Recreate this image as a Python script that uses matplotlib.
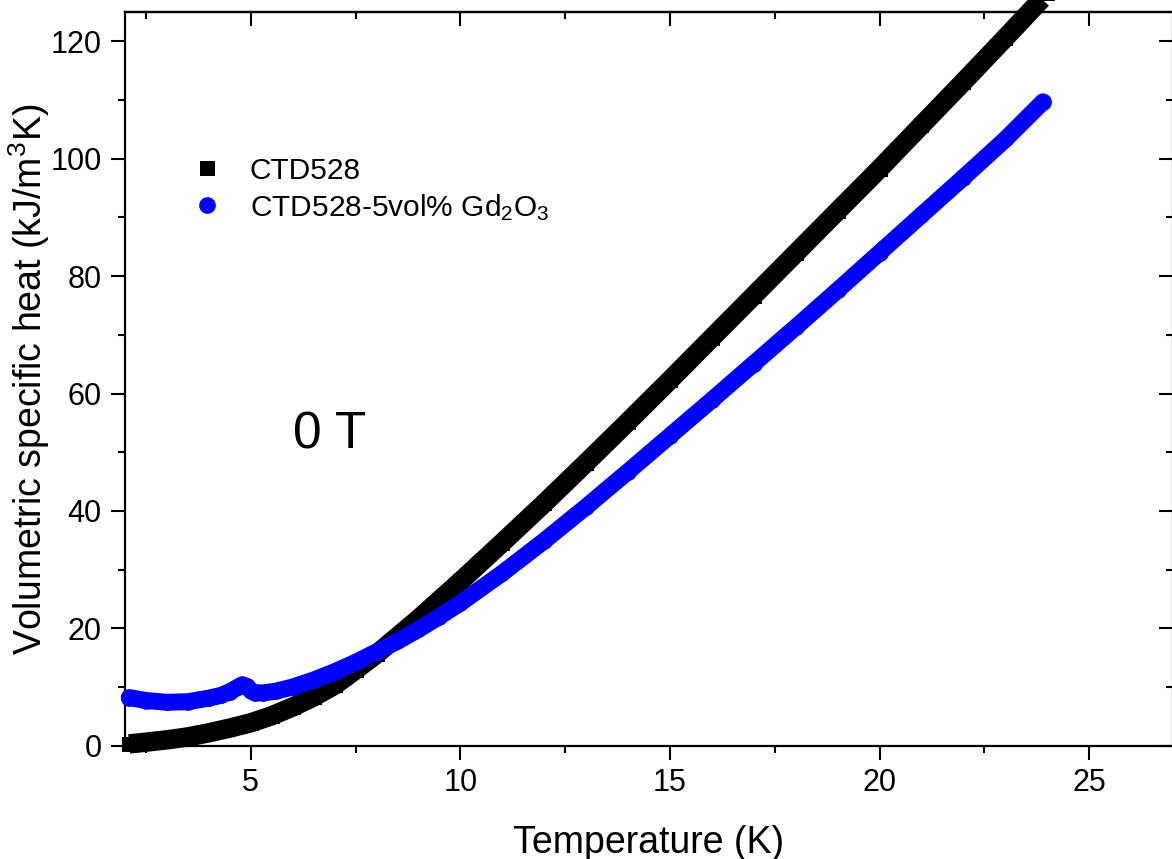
import matplotlib
matplotlib.use('Agg')
import matplotlib.pyplot as plt
from matplotlib.ticker import MultipleLocator

plt.rcParams['font.family'] = ['Liberation Sans', 'DejaVu Sans']
plt.rcParams['mathtext.fontset'] = 'custom'
plt.rcParams['mathtext.rm'] = 'Liberation Sans'
plt.rcParams['mathtext.it'] = 'Liberation Sans:italic'

# CTD528 (black squares)
T_black = [2.1, 2.5, 3.0, 3.5, 4.0, 4.5, 5.0, 5.5, 6.0, 6.5, 7.0, 7.5, 8.0,
           8.5, 9.0, 9.5, 10.0, 11.0, 12.0, 13.0, 14.0, 15.0, 16.0, 17.0,
           18.0, 19.0, 20.0, 21.0, 22.0, 23.0, 24.0]
C_black = [0.3, 0.6, 1.0, 1.5, 2.2, 3.0, 3.9, 5.1, 6.6, 8.3, 10.3, 12.9, 15.6,
           18.6, 21.6, 24.8, 28.0, 34.6, 41.3, 48.2, 55.2, 62.3, 69.5, 76.7,
           83.9, 91.1, 98.3, 105.7, 113.1, 120.6, 128.2]

# CTD528-5vol% Gd2O3 (blue circles)
T_blue = [2.1, 2.5, 3.0, 3.5, 4.0, 4.3, 4.5, 4.7, 4.8, 4.9, 5.0, 5.1, 5.3,
          5.6, 6.0, 6.5, 7.0, 7.5, 8.0, 8.5, 9.0, 9.5, 10.0, 11.0, 12.0,
          13.0, 14.0, 15.0, 16.0, 17.0, 18.0, 19.0, 20.0, 21.0, 22.0, 23.0, 23.9]
C_blue = [8.2, 7.7, 7.4, 7.5, 8.1, 8.6, 9.2, 10.0, 10.4, 10.1, 9.4, 9.0, 9.0,
          9.3, 10.0, 11.2, 12.6, 14.2, 16.0, 17.8, 19.8, 22.0, 24.3, 29.4, 34.9,
          40.7, 46.7, 52.8, 58.9, 65.1, 71.3, 77.6, 84.0, 90.4, 96.8, 103.3, 109.7]

labels = ['CTD528', 'CTD528-5vol% Gd$_\\mathregular{2}$O$_\\mathregular{3}$']

fig = plt.figure(figsize=(11.72, 8.59), dpi=100)
ax = fig.add_axes([125 / 1172, 113.3 / 859, 1048 / 1172, 733.7 / 859])

ax.plot(T_black, C_black, '-', color='black', lw=14, solid_capstyle='butt',
        clip_on=False, zorder=2)
ax.plot(T_black, C_black, 's', color='black', ms=10.8, mew=0, clip_on=False,
        zorder=2, label=labels[0])
ax.plot(T_blue, C_blue, '-', color='#0000ff', lw=12.2, solid_capstyle='round',
        clip_on=False, zorder=3)
ax.plot(T_blue, C_blue, 'o', color='#0000ff', ms=12, mew=0, clip_on=False,
        zorder=3, label=labels[1])

ax.set_xlim(2, 27)
ax.set_ylim(0, 125)
ax.xaxis.set_major_locator(MultipleLocator(5))
ax.xaxis.set_minor_locator(MultipleLocator(2.5))
ax.yaxis.set_major_locator(MultipleLocator(20))
ax.yaxis.set_minor_locator(MultipleLocator(10))
ax.tick_params(which='both', direction='out', width=1.5, labelsize=22)
ax.tick_params(which='major', length=10)
ax.tick_params(which='minor', length=5)
ax.tick_params(axis='x', pad=6)
ax.tick_params(axis='y', pad=7)
for s in ax.spines.values():
    s.set_linewidth(1.6)

# inward ticks on top and right
secx = ax.secondary_xaxis('top')
secx.xaxis.set_major_locator(MultipleLocator(5))
secx.xaxis.set_minor_locator(MultipleLocator(2.5))
secx.tick_params(which='both', direction='in', width=1.5, labeltop=False)
secx.tick_params(which='major', length=10)
secx.tick_params(which='minor', length=5)
secx.spines['top'].set_linewidth(1.6)
secy = ax.secondary_yaxis('right')
secy.yaxis.set_major_locator(MultipleLocator(20))
secy.yaxis.set_minor_locator(MultipleLocator(10))
secy.tick_params(which='both', direction='in', width=1.5, labelright=False)
secy.tick_params(which='major', length=10)
secy.tick_params(which='minor', length=5)

ax.set_xlabel('Temperature (K)', fontsize=27)
ax.set_ylabel('Volumetric specific heat (kJ/m$^\\mathregular{3}$K)', fontsize=27)
ax.xaxis.set_label_coords(0.5, -0.108)
ax.yaxis.set_label_coords(-0.0697, 0.5)

ax.text(6.0, 50.7, '0 T', fontsize=37, ha='left', va='baseline')

ax.legend(loc='upper left', bbox_to_anchor=(0.0639, 0.8025), frameon=False,
          fontsize=21.5, handlelength=1.0, handletextpad=0.94, borderpad=0,
          borderaxespad=0, labelspacing=0.23)

fig.savefig('out.png', dpi=100)
